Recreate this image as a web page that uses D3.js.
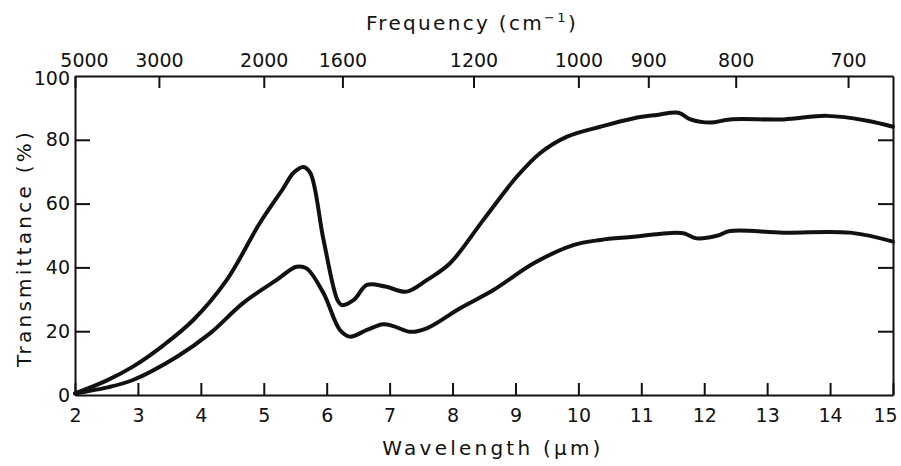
<!DOCTYPE html>
<html>
<head>
<meta charset="utf-8">
<script src="https://cdn.jsdelivr.net/npm/d3@7"></script>
<style>
  html, body { margin: 0; padding: 0; background: #fff; }
  svg { display: block; }
  text { font-family: "DejaVu Sans", sans-serif; fill: #111; }
</style>
</head>
<body>
<svg id="chart" width="901" height="466"></svg>
<script>
// ---- data ----
const wavelengthTicks = [2, 3, 4, 5, 6, 7, 8, 9, 10, 11, 12, 13, 14, 15];
const frequencyTicks = [5000, 3000, 2000, 1600, 1200, 1000, 900, 800, 700];
const transmittanceTicks = [0, 20, 40, 60, 80, 100];

const upperWavelength = [2.0, 2.5, 2.92, 3.4, 3.88, 4.41, 4.94, 5.3, 5.47, 5.63, 5.74, 5.95, 6.17, 6.24, 6.43, 6.64, 6.93, 7.27, 7.59, 7.96, 8.49, 9.02, 9.39, 9.82, 10.35, 10.87, 11.25, 11.59, 11.78, 12.1, 12.41, 13.26, 13.95, 14.59, 15.0];
const upperT = [0.5, 4.5, 8.9, 15.5, 23.5, 36, 54, 64.5, 69.6, 71.5, 69.6, 48.6, 29.8, 28.2, 29.8, 34.5, 34, 32.4, 36, 41.3, 54.9, 68.4, 75.8, 81, 84.1, 86.7, 87.8, 88.5, 86.4, 85.4, 86.4, 86.4, 87.5, 86, 84.1];

const lowerWavelength = [2.0, 2.5, 2.92, 3.62, 4.15, 4.67, 5.2, 5.52, 5.68, 5.95, 6.21, 6.37, 6.64, 6.9, 7.06, 7.33, 7.59, 8.12, 8.65, 9.29, 9.92, 10.35, 10.88, 11.41, 11.67, 11.88, 12.2, 12.41, 13.26, 14.32, 15.0];
const lowerT = [0.5, 2.3, 4.7, 12, 19.4, 28.8, 36, 40.2, 39.7, 31.9, 20.4, 18.3, 20.4, 22.2, 21.6, 19.8, 20.9, 27.2, 32.9, 41.3, 47, 48.6, 49.6, 50.7, 50.7, 49.1, 49.9, 51.4, 50.9, 50.9, 48.1];

// ---- layout ----
const svg = d3.select("#chart");
const x = d3.scaleLinear().domain([2, 15]).range([75, 893]);
const y = d3.scaleLinear().domain([0, 100]).range([395, 76]);

const axisStroke = 2;

function styleAxis(g) {
  g.select(".domain").attr("stroke", "#111").attr("stroke-width", axisStroke);
  g.selectAll(".tick line").attr("stroke", "#111").attr("stroke-width", axisStroke);
  g.selectAll(".tick text").style("font-size", "19px").style("fill", "#111");
}

// bottom axis
const gB = svg.append("g").attr("transform", `translate(0,${y(0)})`)
  .call(d3.axisBottom(x).tickValues(wavelengthTicks).tickFormat(d3.format("d"))
    .tickSize(-12).tickSizeOuter(0).tickPadding(14));
styleAxis(gB);
gB.selectAll(".tick").filter(d => d === 15).select("text").attr("dx", -8);

// top axis (frequency)
const gT = svg.append("g").attr("transform", `translate(0,${y(100)})`)
  .call(d3.axisTop(x).tickValues(frequencyTicks.map(f => 1e4 / f))
    .tickFormat((d, i) => frequencyTicks[i]).tickSize(-12).tickSizeOuter(0).tickPadding(9));
styleAxis(gT);
gT.selectAll(".tick").filter((d, i) => i === 0).select("text").attr("dx", 9);

// left axis
const gL = svg.append("g").attr("transform", `translate(${x(2)},0)`)
  .call(d3.axisLeft(y).tickValues(transmittanceTicks).tickFormat(d3.format("d"))
    .tickSize(-15).tickSizeOuter(0).tickPadding(5));
styleAxis(gL);
gL.selectAll(".tick").filter(d => d === 0 || d === 100).select("line").remove();
gL.selectAll(".tick").filter(d => d === 100).select("text").attr("dy", "0.45em");

// right axis
const gR = svg.append("g").attr("transform", `translate(${x(15)},0)`)
  .call(d3.axisRight(y).tickValues(transmittanceTicks.filter(d => d > 0 && d < 100))
    .tickFormat("").tickSize(-15).tickSizeOuter(0));
styleAxis(gR);

// curves
const line = d3.line().x(d => x(d[0])).y(d => y(d[1])).curve(d3.curveCatmullRom.alpha(0.5));
const upper = upperWavelength.map((w, i) => [w, upperT[i]]);
const lower = lowerWavelength.map((w, i) => [w, lowerT[i]]);
[upper, lower].forEach(s => {
  svg.append("path").datum(s).attr("d", line)
    .attr("fill", "none").attr("stroke", "#111").attr("stroke-width", 4)
    .attr("stroke-linejoin", "round").attr("stroke-linecap", "round");
});

// titles
function fitText(t, target) {
  const n = t.text().length;
  const len = t.node().getComputedTextLength();
  t.attr("letter-spacing", ((target - len) / Math.max(1, n - 1)).toFixed(2));
}

const xt = svg.append("text").attr("x", 493).attr("y", 455).attr("text-anchor", "middle")
  .style("font-size", "20px").text("Wavelength (μm)");
fitText(xt, 218);

const yt = svg.append("text").attr("transform", "translate(31,248) rotate(-90)")
  .attr("text-anchor", "middle").style("font-size", "20px").text("Transmittance (%)");
fitText(yt, 235);

const ft = svg.append("text").attr("x", 472).attr("y", 30).attr("text-anchor", "middle")
  .style("font-size", "20px");
ft.append("tspan").text("Frequency (cm");
ft.append("tspan").attr("dy", -8).style("font-size", "13px").text("−1");
ft.append("tspan").attr("dy", 8).text(")");
{
  const len = ft.node().getComputedTextLength();
  ft.attr("letter-spacing", ((212 - len) / 16).toFixed(2));
}
</script>
</body>
</html>
